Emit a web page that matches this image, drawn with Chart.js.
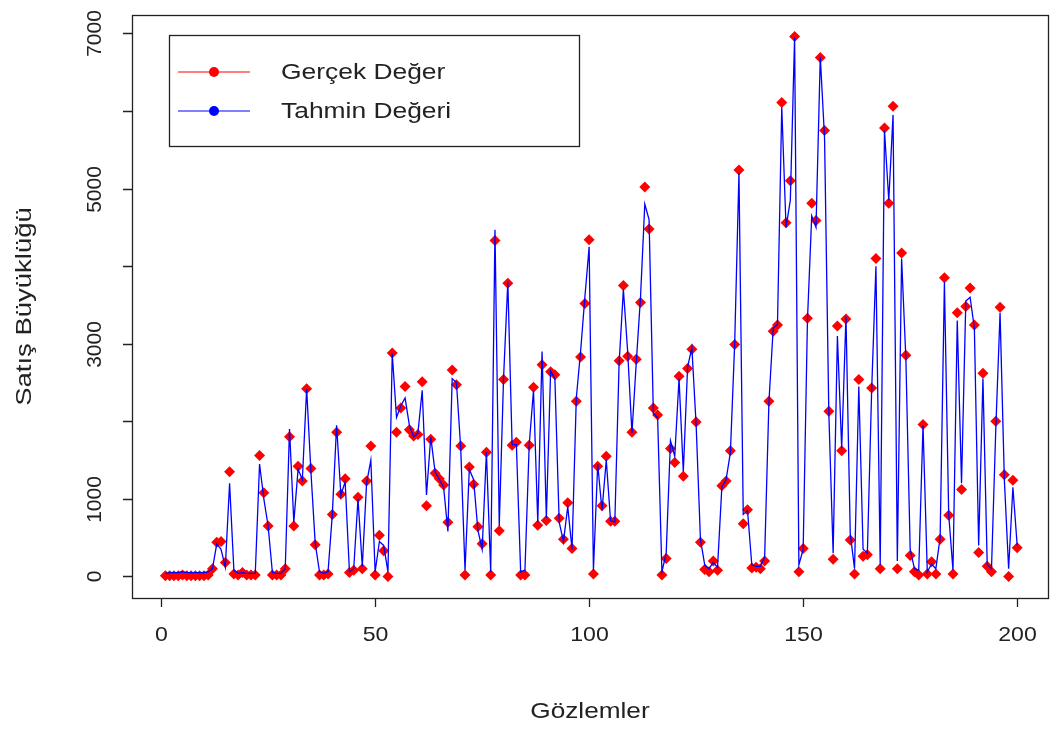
<!DOCTYPE html>
<html>
<head>
<meta charset="utf-8">
<script src="https://cdn.jsdelivr.net/npm/chart.js@4.4.1/dist/chart.umd.min.js"></script>
<style>
  html, body { margin: 0; padding: 0; background: #fff; }
  #wrap { width: 1050px; height: 731px; }
</style>
</head>
<body>
<div id="wrap"><canvas id="myChart" width="1050" height="731"></canvas></div>
<script>
// gerçek satış değerleri (1..200)
var gercek = [
  10, 10, 10, 10, 20, 10, 10, 10, 10, 10,
  20, 100, 440, 450, 180, 1350, 30, 20, 50, 20,
  20, 20, 1560, 1080, 650, 20, 20, 20, 100, 1800,
  650, 1420, 1230, 2420, 1390, 410, 20, 20, 30, 800,
  1860, 1060, 1260, 50, 80, 1020, 100, 1230, 1680, 20,
  530, 330, 0, 2880, 1860, 2170, 2450, 1890, 1810, 1830,
  2510, 910, 1770, 1330, 1260, 1180, 700, 2660, 2470, 1680,
  20, 1410, 1190, 640, 420, 1600, 20, 4330, 590, 2540,
  3780, 1690, 1730, 20, 20, 1690, 2440, 660, 2730, 720,
  2640, 2600, 750, 480, 950, 360, 2260, 2830, 3520, 4340,
  30, 1420, 910, 1550, 710, 710, 2780, 3750, 2840, 1860,
  2800, 3530, 5020, 4480, 2170, 2080, 20, 230, 1650, 1470,
  2580, 1290, 2680, 2930, 1990, 440, 90, 60, 200, 80,
  1170, 1230, 1620, 2990, 5240, 680, 860, 110, 120, 100,
  200, 2260, 3160, 3240, 6110, 4560, 5100, 6960, 60, 360,
  3330, 4810, 4590, 6690, 5750, 2130, 220, 3230, 1620, 3320,
  470, 30, 2540, 260, 280, 2430, 4100, 100, 5780, 4810,
  6060, 100, 4170, 2850, 270, 60, 20, 1960, 30, 190,
  30, 480, 3850, 790, 30, 3400, 1120, 3480, 3720, 3240,
  310, 2620, 130, 60, 2000, 3470, 1310, 0, 1240, 370
];

// model tahminleri
var tahmin = [
  40, 50, 50, 50, 60, 50, 50, 50, 50, 50,
  60, 100, 420, 350, 120, 1200, 80, 40, 50, 40,
  40, 40, 1450, 1000, 650, 50, 40, 40, 100, 1900,
  700, 1380, 1250, 2420, 1350, 430, 60, 40, 60, 800,
  1950, 1050, 1220, 60, 100, 1000, 130, 1200, 1500, 60,
  450, 400, 60, 2870, 2050, 2200, 2300, 1950, 1800, 1850,
  2400, 1050, 1800, 1350, 1250, 1150, 580, 2550, 2500, 1650,
  80, 1380, 1250, 600, 350, 1600, 60, 4470, 650, 2550,
  3800, 1700, 1700, 60, 80, 1700, 2400, 700, 2900, 750,
  2650, 2550, 700, 450, 900, 350, 2300, 2900, 3600, 4250,
  80, 1450, 850, 1500, 720, 700, 2750, 3700, 2900, 1850,
  2750, 3600, 4800, 4600, 2100, 2050, 60, 300, 1750, 1550,
  2550, 1350, 2700, 2950, 1950, 480, 150, 100, 180, 120,
  1150, 1250, 1600, 3000, 5200, 800, 850, 150, 130, 130,
  250, 2250, 3200, 3250, 6050, 4500, 4850, 6950, 150, 350,
  3300, 4650, 4500, 6700, 5650, 2100, 300, 3100, 1650, 3350,
  550, 100, 2450, 350, 300, 2400, 4000, 150, 5750, 4850,
  5950, 200, 4100, 2800, 350, 100, 80, 1950, 60, 160,
  100, 500, 3800, 800, 80, 3300, 1200, 3550, 3600, 3200,
  400, 2550, 150, 100, 1900, 3400, 1250, 100, 1150, 400
];

var xTicks = [0, 50, 100, 150, 200];
var yTicks = [0, 1000, 2000, 3000, 4000, 5000, 6000, 7000];
var yTickLabels = ['0', '1000', '', '3000', '', '5000', '', '7000'];

var gozlem = gercek.map(function (v, i) { return i + 1; });

var yaziTipi = '"Liberation Sans", Arial, sans-serif';
var yaziRengi = '#222';

// yatayda biraz genisletilmis yazi
function genisYaz(ctx, metin, x, y, aci, sx) {
  ctx.save();
  ctx.translate(x, y);
  ctx.rotate(aci);
  ctx.scale(sx, 1);
  ctx.fillText(metin, 0, 0);
  ctx.restore();
}

// R tarzi kutu, eksen cizgileri, etiketler ve lejant
var rEksen = {
  id: 'rEksen',
  afterDraw: function (chart) {
    var ctx = chart.ctx;
    var a = chart.chartArea;
    var xs = chart.scales.x, ys = chart.scales.y;
    ctx.save();
    ctx.strokeStyle = '#222';
    ctx.lineWidth = 1.3;
    ctx.strokeRect(a.left + 0.5, a.top + 0.5, a.right - a.left, a.bottom - a.top);

    ctx.fillStyle = yaziRengi;
    ctx.font = '21px ' + yaziTipi;

    // x ekseni
    ctx.beginPath();
    ctx.textAlign = 'center';
    ctx.textBaseline = 'top';
    xTicks.forEach(function (t) {
      var px = Math.round(xs.getPixelForValue(t)) + 0.5;
      ctx.moveTo(px, a.bottom);
      ctx.lineTo(px, a.bottom + 9);
      genisYaz(ctx, String(t), px, a.bottom + 27, 0, 1.1);
    });
    ctx.stroke();

    // y ekseni
    ctx.beginPath();
    ctx.textBaseline = 'bottom';
    yTicks.forEach(function (t, i) {
      var py = Math.round(ys.getPixelForValue(t)) + 0.5;
      ctx.moveTo(a.left, py);
      ctx.lineTo(a.left - 9, py);
      if (yTickLabels[i]) {
        genisYaz(ctx, yTickLabels[i], a.left - 26, py, -Math.PI / 2, 1.0);
      }
    });
    ctx.stroke();

    // eksen basliklari
    ctx.font = '22px ' + yaziTipi;
    ctx.textAlign = 'center';
    ctx.textBaseline = 'middle';
    genisYaz(ctx, 'Gözlemler', (a.left + a.right) / 2, 712, 0, 1.19);
    genisYaz(ctx, 'Satış Büyüklüğü', 25, (a.top + a.bottom) / 2, -Math.PI / 2, 1.25);

    // lejant
    ctx.lineWidth = 1.3;
    ctx.strokeStyle = '#222';
    ctx.strokeRect(169.5, 35.5, 410, 111);
    var girdiler = [
      { ad: 'Gerçek Değer', renk: '#ff0000', y: 72 },
      { ad: 'Tahmin Değeri', renk: '#0000ff', y: 111 }
    ];
    girdiler.forEach(function (g) {
      ctx.strokeStyle = g.renk;
      ctx.lineWidth = 1.2;
      ctx.beginPath();
      ctx.moveTo(178, g.y);
      ctx.lineTo(250, g.y);
      ctx.stroke();
      ctx.fillStyle = g.renk;
      ctx.beginPath();
      ctx.arc(214, g.y, 5, 0, Math.PI * 2);
      ctx.fill();
      ctx.fillStyle = yaziRengi;
      ctx.textAlign = 'left';
      ctx.textBaseline = 'middle';
      genisYaz(ctx, g.ad, 281, g.y + 1, 0, 1.2);
    });
    ctx.restore();
  }
};

var ctx = document.getElementById('myChart');
var myChart = new Chart(ctx, {
  type: 'line',
  data: {
    labels: gozlem,
    datasets: [
      {
        label: 'Gerçek Değer',
        data: gercek,
        showLine: false,
        pointStyle: 'rectRot',
        pointRadius: 5.5,
        pointBackgroundColor: '#ff0000',
        pointBorderColor: '#ff0000',
        pointBorderWidth: 0,
        borderColor: '#ff0000',
        order: 2
      },
      {
        label: 'Tahmin Değeri',
        data: tahmin,
        borderColor: '#0000ff',
        borderWidth: 1.3,
        pointRadius: 0,
        tension: 0,
        order: 1
      }
    ]
  },
  options: {
    responsive: false,
    animation: false,
    layout: { autoPadding: false, padding: { left: 132, top: 15, right: 2, bottom: 133 } },
    plugins: { legend: { display: false }, tooltip: { enabled: false } },
    scales: {
      x: { type: 'linear', min: -6.8, max: 207.2, display: false },
      y: { type: 'linear', min: -278, max: 7238, display: false }
    }
  },
  plugins: [rEksen]
});
</script>
</body>
</html>
